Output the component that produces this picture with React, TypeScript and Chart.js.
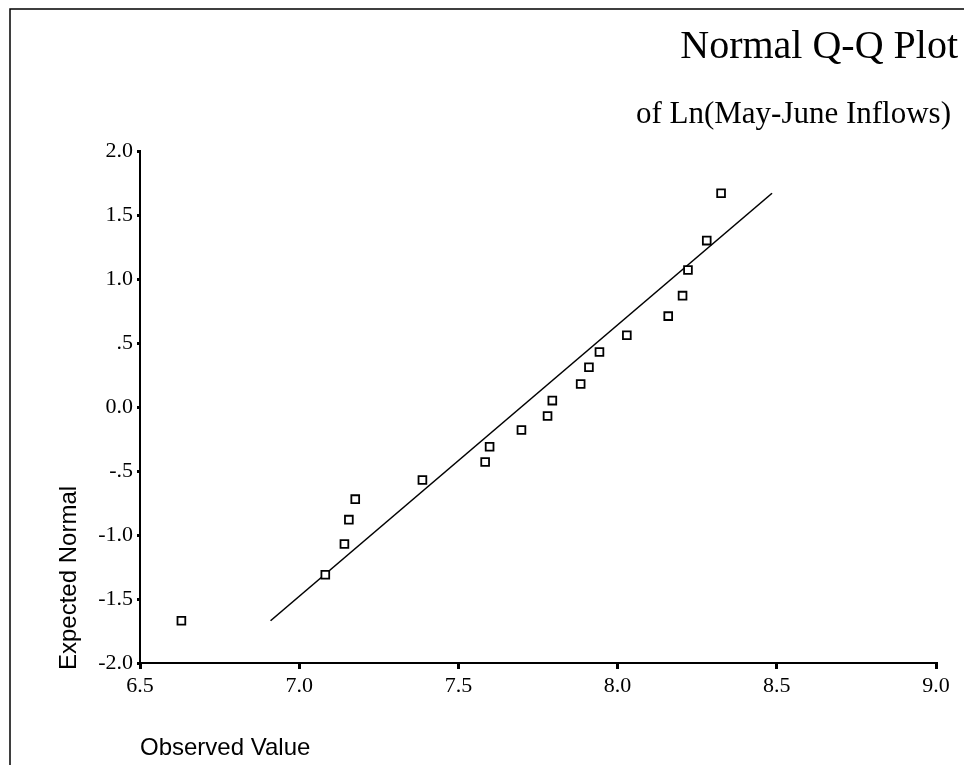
import React, { useEffect, useRef } from "react";
import { Chart, registerables } from "chart.js";

Chart.register(...registerables);

const observedValues = [
  6.63, 7.082, 7.142, 7.156, 7.176, 7.387, 7.584, 7.598, 7.698, 7.78,
  7.795, 7.884, 7.91, 7.943, 8.029, 8.159, 8.204, 8.221, 8.28, 8.325,
];
const expectedNormal = [
  -1.67, -1.31, -1.07, -0.88, -0.72, -0.57, -0.43, -0.31, -0.18, -0.07,
  0.05, 0.18, 0.31, 0.43, 0.56, 0.71, 0.87, 1.07, 1.30, 1.67,
];
// Reference line end points
const lineX = [6.91, 8.485];
const lineY = [-1.67, 1.67];

const xTickValues = [6.5, 7.0, 7.5, 8.0, 8.5, 9.0];
const xTickLabels = ["6.5", "7.0", "7.5", "8.0", "8.5", "9.0"];
const yTickValues = [-2, -1.5, -1, -0.5, 0, 0.5, 1, 1.5, 2];
const yTickLabels = ["-2.0", "-1.5", "-1.0", "-.5", "0.0", ".5", "1.0", "1.5", "2.0"];

const titleText = "Normal Q-Q Plot";
const subtitleText = "of Ln(May-June Inflows)";
const xTitle = "Observed Value";
const yTitle = "Expected Normal";

const SERIF = "'Liberation Serif', 'Times New Roman', serif";
const SANS = "'Liberation Sans', Arial, sans-serif";

const decorPlugin = {
  id: "decor",
  afterDraw(chart: any) {
    const ctx = chart.ctx;
    ctx.save();
    // frame lines (top and left)
    ctx.strokeStyle = "#000";
    ctx.lineWidth = 1.5;
    ctx.beginPath();
    ctx.moveTo(10, 765);
    ctx.lineTo(10, 9);
    ctx.lineTo(964, 9);
    ctx.stroke();

    ctx.fillStyle = "#000";
    ctx.textAlign = "right";
    ctx.textBaseline = "alphabetic";
    ctx.font = `40px ${SERIF}`;
    ctx.fillText(titleText, 958, 58);
    ctx.font = `31px ${SERIF}`;
    ctx.fillText(subtitleText, 951, 123);

    ctx.textAlign = "left";
    ctx.font = `24px ${SANS}`;
    ctx.fillText(xTitle, 140, 755);

    ctx.translate(76, 670);
    ctx.rotate(-Math.PI / 2);
    ctx.textAlign = "left";
    ctx.fillText(yTitle, 0, 0);
    ctx.restore();
  },
};

export default function App() {
  const ref = useRef<HTMLCanvasElement>(null);
  useEffect(() => {
    document.body.style.margin = "0";
    const points = observedValues.map((x, i) => ({ x, y: expectedNormal[i] }));
    const line = lineX.map((x, i) => ({ x, y: lineY[i] }));
    const chart = new Chart(ref.current!, {
      type: "scatter",
      data: {
        datasets: [
          {
            data: points,
            pointStyle: "rect",
            pointRadius: 5.5,
            pointBackgroundColor: "#fff",
            pointBorderColor: "#000",
            pointBorderWidth: 1.8,
            showLine: false,
          },
          {
            data: line,
            showLine: true,
            pointRadius: 0,
            borderColor: "#000",
            borderWidth: 1.6,
          },
        ],
      },
      options: {
        animation: false,
        responsive: false,
        events: [],
        layout: { padding: { left: 0, top: 151, right: 28, bottom: 67 } },
        plugins: { legend: { display: false }, tooltip: { enabled: false } },
        scales: {
          x: {
            type: "linear",
            min: 6.5,
            max: 9,
            afterFit: (s: any) => {
              s.height = 35;
            },
            afterBuildTicks: (s: any) => {
              s.ticks = xTickValues.map((v) => ({ value: v }));
            },
            ticks: {
              color: "#000",
              font: { family: SERIF, size: 22 },
              padding: 4,
              maxRotation: 0,
              callback: (v: any) => {
                const i = xTickValues.indexOf(Number(v));
                return i >= 0 ? xTickLabels[i] : "";
              },
            },
            grid: {
              drawOnChartArea: false,
              drawTicks: true,
              tickLength: 6,
              lineWidth: 3,
              color: "#000",
            },
            border: { display: true, color: "#000", width: 2 },
          },
          y: {
            type: "linear",
            min: -2,
            max: 2,
            afterFit: (s: any) => {
              s.width = 140;
            },
            afterBuildTicks: (s: any) => {
              s.ticks = yTickValues.map((v) => ({ value: v }));
            },
            ticks: {
              color: "#000",
              font: { family: SERIF, size: 22 },
              padding: 4,
              callback: (v: any) => {
                const i = yTickValues.indexOf(Number(v));
                return i >= 0 ? yTickLabels[i] : "";
              },
            },
            grid: {
              drawOnChartArea: false,
              drawTicks: true,
              tickLength: 3,
              lineWidth: 3,
              color: "#000",
            },
            border: { display: true, color: "#000", width: 2 },
          },
        },
      },
      plugins: [decorPlugin],
    });
    return () => chart.destroy();
  }, []);
  return (
    <div style={{ width: 964, height: 765, background: "#fff" }}>
      <canvas ref={ref} width={964} height={765} style={{ display: "block" }} />
    </div>
  );
}
